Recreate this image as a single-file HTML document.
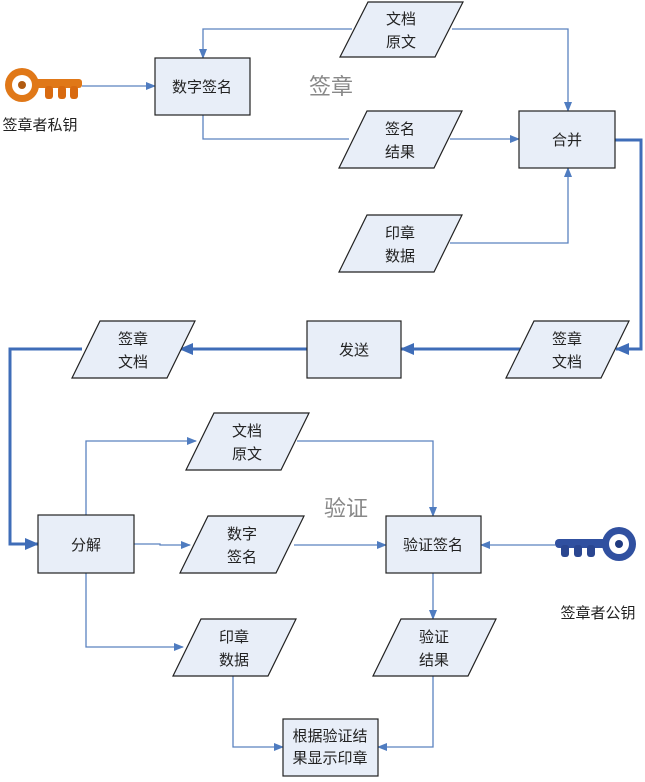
<!DOCTYPE html>
<html><head><meta charset="utf-8"><style>
body{margin:0;background:#fff;}
svg text{font-family:"Liberation Sans","Noto Sans CJK SC",sans-serif;font-size:15px;fill:#222;text-anchor:middle;}
</style></head><body>
<svg width="645" height="777" viewBox="0 0 645 777" xmlns="http://www.w3.org/2000/svg">
<defs>
<marker id="a" markerWidth="10" markerHeight="8" refX="9" refY="4" orient="auto" markerUnits="userSpaceOnUse"><path d="M0,0 L10,4 L0,8 Z" fill="#4f7cc0"/></marker>
<marker id="b" markerWidth="14" markerHeight="12" refX="13" refY="6" orient="auto" markerUnits="userSpaceOnUse"><path d="M0,0 L14,6 L0,12 Z" fill="#3f6db8"/></marker>
</defs>
<g fill="none" stroke="#5b82bf" stroke-width="1.3">
<path d="M82,86 H155" marker-end="url(#a)"/>
<path d="M352,29 H203 V58" marker-end="url(#a)"/>
<path d="M452,29 H568 V111" marker-end="url(#a)"/>
<path d="M203,115 V139 H349"/>
<path d="M450,139 H519" marker-end="url(#a)"/>
<path d="M450,243 H568 V168" marker-end="url(#a)"/>
<path d="M86,515 V441 H196" marker-end="url(#a)"/>
<path d="M297,441 H433 V516" marker-end="url(#a)"/>
<path d="M134,544 H160 V545 H190" marker-end="url(#a)"/>
<path d="M294,545 H386" marker-end="url(#a)"/>
<path d="M555,545 H481" marker-end="url(#a)"/>
<path d="M86,573 V647 H183" marker-end="url(#a)"/>
<path d="M433,573 V619" marker-end="url(#a)"/>
<path d="M233,676 V747 H283" marker-end="url(#a)"/>
<path d="M433,676 V747 H378" marker-end="url(#a)"/>
</g>
<g fill="none" stroke="#3f6db8" stroke-width="3">
<path d="M615,140 H641 V349 H616" marker-end="url(#b)"/>
<path d="M520,349 H401" marker-end="url(#b)"/>
<path d="M307,349 H180" marker-end="url(#b)"/>
<path d="M82,349 H10 V544 H38" marker-end="url(#b)"/>
</g>
<g fill="#e8eef8" stroke="#222" stroke-width="1.2">
<rect x="155" y="58" width="95" height="57"/>
<rect x="519" y="111" width="96" height="57"/>
<rect x="307" y="321" width="94" height="57"/>
<rect x="38" y="515" width="96" height="58"/>
<rect x="386" y="516" width="95" height="57"/>
<rect x="283" y="719" width="95" height="57"/>
<path d="M340,57 L368,2 L463,2 L435,57 Z"/>
<path d="M339,168 L367,111 L462,111 L434,168 Z"/>
<path d="M339,272 L367,215 L462,215 L434,272 Z"/>
<path d="M506,378 L534,321 L629,321 L601,378 Z"/>
<path d="M72,378 L100,321 L195,321 L167,378 Z"/>
<path d="M186,470 L214,413 L309,413 L281,470 Z"/>
<path d="M180,573 L208,516 L304,516 L276,573 Z"/>
<path d="M173,676 L201,619 L296,619 L268,676 Z"/>
<path d="M373,676 L401,619 L496,619 L468,676 Z"/>
</g>
<text x="202" y="92">数字签名</text>
<text x="567" y="145">合并</text>
<text x="354" y="355">发送</text>
<text x="86" y="550">分解</text>
<text x="433" y="550">验证签名</text>
<text x="330" y="741">根据验证结</text><text x="330" y="763">果显示印章</text>
<text x="401" y="24">文档</text><text x="401" y="47">原文</text>
<text x="400" y="134">签名</text><text x="400" y="157">结果</text>
<text x="400" y="238">印章</text><text x="400" y="261">数据</text>
<text x="567" y="344">签章</text><text x="567" y="367">文档</text>
<text x="133" y="344">签章</text><text x="133" y="367">文档</text>
<text x="247" y="436">文档</text><text x="247" y="459">原文</text>
<text x="242" y="539">数字</text><text x="242" y="562">签名</text>
<text x="234" y="642">印章</text><text x="234" y="665">数据</text>
<text x="434" y="642">验证</text><text x="434" y="665">结果</text>
<text x="331" y="94" style="font-size:22px;fill:#888">签章</text>
<text x="346" y="516" style="font-size:22px;fill:#888">验证</text>
<text x="40" y="130" style="font-size:15px">签章者私钥</text>
<text x="598" y="618" style="font-size:15px">签章者公钥</text>
<g>
<rect x="30" y="79" width="52" height="9" rx="3" fill="#e07818"/>
<rect x="45" y="86" width="8" height="13" rx="3" fill="#d86a10"/>
<rect x="58" y="86" width="8" height="13" rx="3" fill="#d86a10"/>
<rect x="70" y="86" width="8" height="13" rx="3" fill="#d86a10"/>
<circle cx="22" cy="85" r="17" fill="#e07818"/>
<circle cx="22" cy="85" r="10" fill="#fff"/>
<circle cx="22" cy="85" r="4" fill="#b05a10"/>
</g>
<g>
<rect x="555" y="539" width="60" height="9" rx="4" fill="#3050a0"/>
<rect x="561" y="545" width="8" height="12" rx="3" fill="#2a4690"/>
<rect x="574" y="545" width="8" height="12" rx="3" fill="#2a4690"/>
<rect x="587" y="545" width="8" height="12" rx="3" fill="#2a4690"/>
<circle cx="619" cy="544" r="17" fill="#3050a0"/>
<circle cx="619" cy="544" r="10" fill="#fff"/>
<circle cx="619" cy="544" r="4" fill="#203a80"/>
</g>
</svg>
</body></html>
